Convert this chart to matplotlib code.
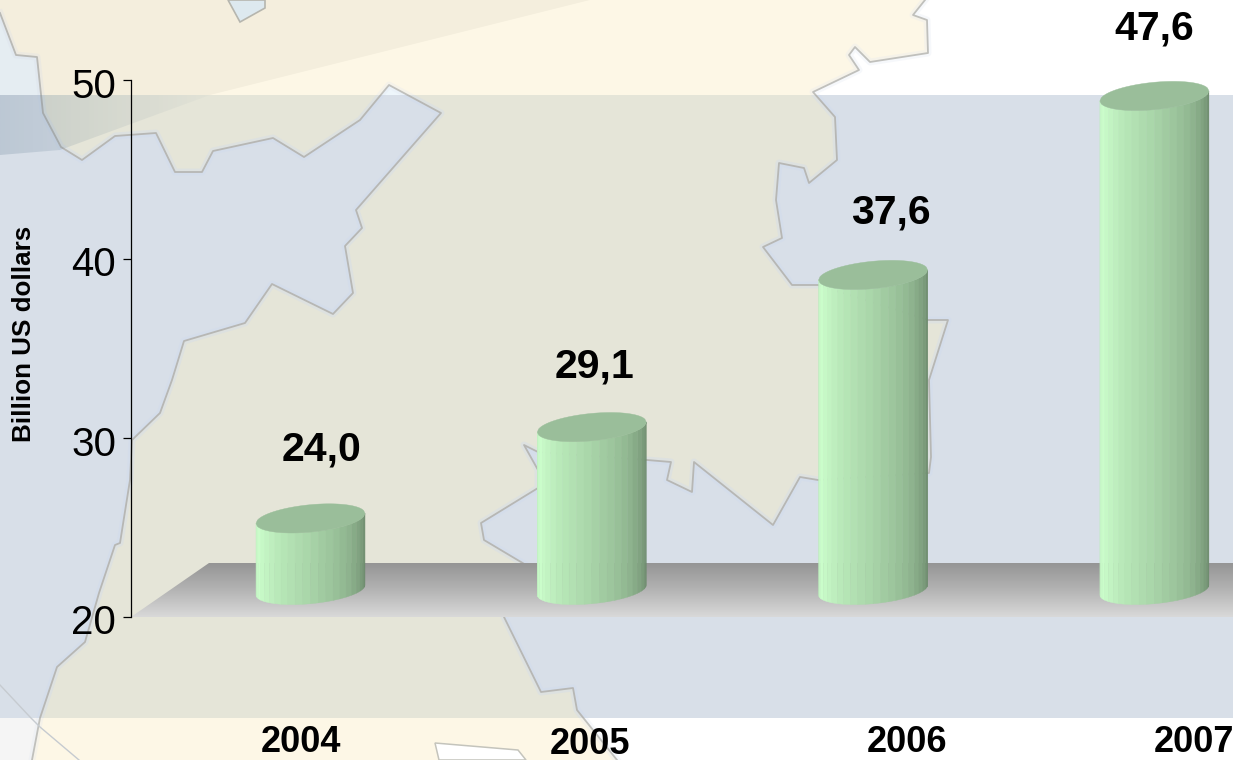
import numpy as np
import matplotlib
matplotlib.use("Agg")
import matplotlib.pyplot as plt
from matplotlib.patches import Polygon, Rectangle
from matplotlib.colors import LinearSegmentedColormap
from matplotlib.transforms import ScaledTranslation

# ---- data ----
years = ["2004", "2005", "2006", "2007"]
values = [24.0, 29.1, 37.6, 47.6]
value_labels = ["24,0", "29,1", "37,6", "47,6"]
y_ticks = [20, 30, 40, 50]
y_title = "Billion US dollars"

# label nudges in pixels (the original placed them by hand)
value_nudge = [(11, 96), (3, 88), (18, 89), (0, 94)]
year_nudge = [(-9, -126), (-2, -127), (34, -126), (40, -126)]

W, H = 1233, 760
FONT = "Liberation Sans"
plt.rcParams["font.family"] = [FONT, "DejaVu Sans"]

fig = plt.figure(figsize=(W / 100, H / 100), dpi=100, facecolor="white")

# ---- decorative backdrop, in image pixels ----
bg = fig.add_axes([0, 0, 1, 1], zorder=0)
bg.set_xlim(0, W)
bg.set_ylim(H, 0)
bg.axis("off")

left_coast = [(0, 13), (16, 55), (37, 57), (43, 113), (61, 147), (82, 160), (115, 136), (156, 133),
              (175, 172), (202, 172), (213, 151), (273, 138), (304, 157), (360, 120), (389, 85),
              (441, 113), (356, 210), (362, 228), (345, 246), (353, 293), (333, 314), (272, 284),
              (245, 323), (184, 341), (172, 380), (160, 413), (132, 440), (130, 480), (120, 543),
              (115, 545), (99, 593), (85, 642), (57, 667), (40, 718), (32, 760)]
right_coast = [(925, 0), (913, 15), (927, 20), (928, 53), (870, 62), (855, 47), (849, 55), (859, 70),
               (813, 92), (835, 117), (837, 160), (809, 183), (804, 168), (779, 163), (776, 200),
               (782, 238), (763, 247), (792, 285), (818, 285), (928, 320), (948, 320), (929, 380),
               (931, 457), (929, 473), (818, 480), (800, 477), (773, 525), (694, 462), (692, 492),
               (667, 480), (671, 462), (647, 460), (538, 452), (524, 445), (538, 470), (538, 488),
               (481, 523), (484, 540), (526, 565), (504, 617), (541, 692), (573, 688), (577, 710),
               (617, 760)]
land = left_coast + right_coast[::-1] + [(0, 0)]
left_sea = [(0, 13)] + left_coast + [(0, H)]
lake_top = [(228, 0), (240, 22), (265, 8), (265, 0)]
lake_bottom = [(435, 743), (518, 750), (526, 760), (439, 760)]
side_line = [(0, 685), (30, 717), (40, 727), (79, 760)]


def coast_lines(z, line_c, halo_c, halo_a):
    out = []
    for pts in (left_coast, right_coast):
        xs, ys = zip(*pts)
        out += bg.plot(xs, ys, color=halo_c, lw=5, alpha=halo_a, zorder=z)
        out += bg.plot(xs, ys, color=line_c, lw=1.3, zorder=z + 0.1)
    xs, ys = zip(*side_line)
    out += bg.plot(xs, ys, color="#C6CBD0", lw=1.0, zorder=z + 0.1)
    return out


# upper and lower strips of the map
bg.add_patch(Polygon(left_sea, closed=True, fc="#EEF6FB", ec="none", zorder=1))
bg.add_patch(Rectangle((0, 718), 40, 42, fc="#F5F5F5", ec="none", zorder=1.1))
bg.add_patch(Polygon(land, closed=True, fc="#FDF7E6", ec="none", zorder=1.2))
bg.add_patch(Polygon(lake_top, closed=True, fc="#E6F2F8", ec="#BDBDB5", lw=1.2, zorder=2))
bg.add_patch(Polygon(lake_bottom, closed=True, fc="white", ec="#C4C4BC", lw=1.1, zorder=2))
coast_lines(3, "#C0C0BC", "#E3E8F2", 0.3)

# shaded middle band laid over the map
bg.add_patch(Rectangle((0, 95), W, 623, fc="#D8DFE8", ec="none", zorder=5))
items = [bg.add_patch(Polygon(land, closed=True, fc="#E5E5D8", ec="none", zorder=6))]
items += coast_lines(7, "#B7B7B4", "#CFDAF0", 0.35)
for it in items:
    it.set_clip_path(Rectangle((0, 95), W, 623, transform=bg.transData))

# soft diagonal shadow at the top left
bg.add_patch(Polygon([(0, 0), (590, 0), (210, 95), (0, 95)], closed=True, fc="black", ec="none", alpha=0.035, zorder=9))
fade = np.zeros((1, 128, 4))
fade[0, :, :3] = (0.30, 0.42, 0.52)
fade[0, :, 3] = np.linspace(0.2, 0.02, 128)
shadow = bg.imshow(fade, extent=(0, 215, 155, 95), aspect="auto", zorder=9, interpolation="bilinear")
shadow.set_clip_path(Polygon([(0, 95), (210, 95), (60, 150), (0, 155)], closed=True, transform=bg.transData))

# floor of the 3-D chart
floor_cmap = LinearSegmentedColormap.from_list("floor", ["#959595", "#B4B4B4", "#D9D9D9"])
img = bg.imshow(np.linspace(0, 1, 128)[:, None], extent=(0, W, 617, 563), aspect="auto",
                cmap=floor_cmap, zorder=10, interpolation="bilinear")
img.set_clip_path(Polygon([(209, 563), (W, 563), (W, 617), (131, 617)], closed=True, transform=bg.transData))
bg.set_xlim(0, W)
bg.set_ylim(H, 0)

# ---- chart axes ----
X0, X1 = 131, W            # axes box in pixels
Y50, Y20 = 80, 617
UX = 281.3                 # pixels per category
UY = (Y20 - Y50) / 30.0    # pixels per unit of value
CAT0 = 310.5

ax = fig.add_axes([X0 / W, 1 - Y20 / H, (X1 - X0) / W, (Y20 - Y50) / H], zorder=1)
ax.patch.set_alpha(0)
ax.set_xlim((X0 - CAT0) / UX, (X1 - CAT0) / UX)
ax.set_ylim(20, 50)
for side in ("top", "right", "bottom"):
    ax.spines[side].set_visible(False)
ax.spines["left"].set_linewidth(0.9)
ax.set_xticks([])
ax.set_yticks(y_ticks)
ax.tick_params(axis="y", length=5.8, width=0.9, pad=5, labelsize=29)
for lab in ax.get_yticklabels():
    lab.set_transform(lab.get_transform() + ScaledTranslation(0, -2.5 / 100, fig.dpi_scale_trans))

fig.text(24 / W, 1 - 334 / H, y_title, rotation=90, ha="center", va="center",
         fontsize=18.7, fontweight="bold", color="black")

# ---- cylinders ----
shade = LinearSegmentedColormap.from_list(
    "cyl", [(0.0, "#BDEEBD"), (0.07, "#CCFFCC"), (0.3, "#B8E8B8"), (0.5, "#A8D4A8"),
            (0.75, "#90B690"), (1.0, "#6D8B6D")])
A = 54.5     # half width, px
TILT = 5.0   # rise of the rim's right end, px
B = 13.7     # half height of the rim, px
DEPTH = 27.0 # the rim's centre sits this far above the axis value, px
N = 22


def rim(u, sign):
    """Rim height in px at normalised u in [-1, 1]; sign=-1 lower half, +1 upper half."""
    return TILT * u + sign * B * np.sqrt(np.clip(1 - u ** 2, 0, 1))


for i, v in enumerate(values):
    dx = A / UX
    lift = DEPTH / UY
    edges = -np.cos(np.linspace(0, np.pi, N + 1))
    for j in range(N):
        us = np.linspace(edges[j], edges[j + 1], 5)
        xs = i + us * dx
        low = 20 + lift + rim(us, -1) / UY
        high = v + lift + rim(us, -1) / UY
        colour = shade(j / (N - 1))
        ax.fill(np.r_[xs, xs[::-1]], np.r_[low, high[::-1]], fc=colour, ec=colour, lw=0.3, zorder=3, clip_on=False)
    us = np.linspace(-1, 1, 80)
    xs = i + us * dx
    top_lo = v + lift + rim(us, -1) / UY
    top_hi = v + lift + rim(us, 1) / UY
    ax.fill(np.r_[xs, xs[::-1]], np.r_[top_lo, top_hi[::-1]], fc="#9ABE9A", ec="#9ABE9A", lw=0.3, zorder=4, clip_on=False)

    ax.annotate(value_labels[i], (i, v), xytext=value_nudge[i], textcoords="offset pixels",
                ha="center", va="center", fontsize=29.5, fontweight="bold", color="black",
                annotation_clip=False, zorder=6)
    ax.annotate(years[i], (i, 20), xytext=year_nudge[i], textcoords="offset pixels",
                ha="center", va="center", fontsize=26, fontweight="bold", color="black",
                annotation_clip=False, zorder=6)

fig.savefig("out.png", dpi=100, facecolor="white")
